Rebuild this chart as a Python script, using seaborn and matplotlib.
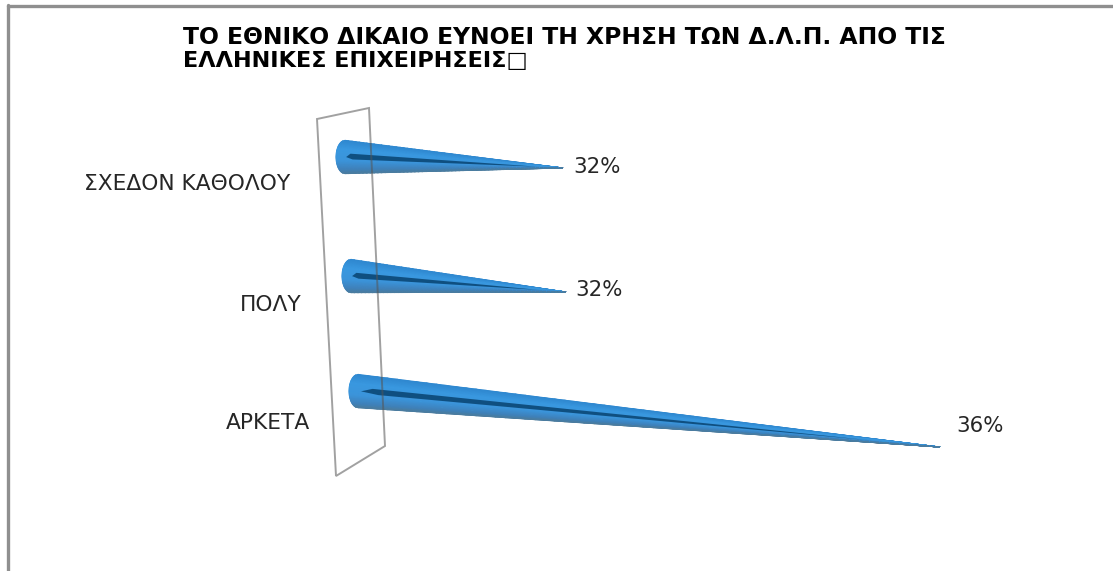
import numpy as np
import pandas as pd
import matplotlib
matplotlib.use("Agg")
import matplotlib.pyplot as plt
from matplotlib.colors import LinearSegmentedColormap
from matplotlib.lines import Line2D
from matplotlib.patches import Polygon
from matplotlib.transforms import ScaledTranslation
import seaborn as sns

# ---- data ----
title_lines = ["ΤΟ ΕΘΝΙΚΟ ΔΙΚΑΙΟ ΕΥΝΟΕΙ ΤΗ ΧΡΗΣΗ ΤΩΝ Δ.Λ.Π. ΑΠΟ ΤΙΣ", "ΕΛΛΗΝΙΚΕΣ ΕΠΙΧΕΙΡΗΣΕΙΣ\u25a1"]
categories = ["ΣΧΕΔΟΝ ΚΑΘΟΛΟΥ", "ΠΟΛΥ", "ΑΡΚΕΤΑ"]
values = [32, 32, 36]

# ---- layout (pixels) ----
W, H = 1113, 571
base_x = [345, 351, 358]
tip_drop = [11, 16, 56]
tip_dx = [0, 3, 0]
base_dy = [0, 2, 0]
label_right = [290, 302, 310]
label_dy = [25, 29, 30]
value_dx = [10, 9, 16]
value_dy = [-1, -2, -21]
cap = 9

sns.set_theme(style="white")
plt.rcParams["font.family"] = ["DejaVu Sans"]

fig = plt.figure(figsize=(W / 100, H / 100), dpi=100, facecolor="white")
ax_l, ax_r, ax_t, ax_b = 345, 945, 100, 480
ax = fig.add_axes([ax_l / W, (H - ax_b) / H, (ax_r - ax_l) / W, (ax_b - ax_t) / H])
ax.patch.set_alpha(0)

df = pd.DataFrame({"category": categories, "value": values})
sns.barplot(data=df, y="category", x="value", order=categories, orient="h",
            width=0.285, color="#3a96dc", ax=ax)
ax.set_xlim(29.687, 36.053)
ax.set_ylim(2.76, -0.487)
ax.set_xlabel("")
ax.set_ylabel("")
ax.set_xticks([])
for s in ax.spines.values():
    s.set_visible(False)
ax.tick_params(axis="y", length=0, pad=0)

# overlay in reference pixel coordinates for the cone rendering
ov = fig.add_axes([0, 0, 1, 1], zorder=5)
ov.set_xlim(0, W)
ov.set_ylim(H, 0)
ov.axis("off")
ov.patch.set_alpha(0)


def to_px(x, y):
    return ov.transData.inverted().transform(ax.transData.transform((x, y)))


cmap = LinearSegmentedColormap.from_list("cone", [
    (0.0, "#2f88d0"), (0.25, "#3998e0"), (0.62, "#3b94da"),
    (0.88, "#3f81ba"), (1.0, "#4c7c9e")])

bars = list(ax.patches)
for i, bar in enumerate(bars):
    bar.set_visible(False)
    yc = bar.get_y() + bar.get_height() / 2
    tx, cy = to_px(bar.get_x() + bar.get_width(), yc)
    _, top = to_px(0, bar.get_y())
    _, bot = to_px(0, bar.get_y() + bar.get_height())
    r = abs(bot - top) / 2
    cy += base_dy[i]
    tx += tip_dx[i]
    ty = cy + tip_drop[i]
    bx = base_x[i]

    u = np.linspace(0, 1, 60)[:, None]
    v = np.linspace(-1, 1, 41)[None, :]
    start = bx - cap * np.sqrt(1 - v ** 2)
    X = start + u * (tx - start)
    Y = (cy + v * r) + u * (ty - (cy + v * r))
    C = (v + 1) / 2 * np.ones_like(X)
    ov.pcolormesh(X, Y, C, shading="gouraud", cmap=cmap, vmin=0, vmax=1, zorder=3)

    # dark inner shadow of the hollow base, in cone-local (u, v) coordinates
    local = [(0.005, 0.0), (0.025, -0.22), (0.88, -0.02), (0.035, 0.13)]
    pts = []
    for uu, vv in local:
        xx = bx + uu * (tx - bx)
        yy = (cy + vv * r) + uu * (ty - (cy + vv * r))
        pts.append((xx, yy))
    ov.add_patch(Polygon(pts, closed=True, facecolor="#0f4f80", edgecolor="none", zorder=4))

    ov.text(tx + value_dx[i], ty + value_dy[i], f"{values[i]}%",
            ha="left", va="center", fontsize=15.4, color="#262626", zorder=6)

# tick labels moved below-left of their category, as in the reference
for i, lab in enumerate(ax.get_yticklabels()):
    dx = (label_right[i] - ax_l) / 100
    dy = -label_dy[i] / 100
    lab.set_transform(lab.get_transform() + ScaledTranslation(dx, dy, fig.dpi_scale_trans))
    lab.set_fontsize(15.7)
    lab.set_color("#262626")
    lab.set_ha("right")

# slanted back wall, drawn over the cones
wall = [(317, 119), (369, 108), (385, 446), (336, 476)]
ov.add_patch(Polygon(wall, closed=True, fill=False, edgecolor="#555555", alpha=0.55,
                     linewidth=1.4, zorder=5))

# chart frame
frame = dict(color="#8f8f8f", linewidth=2.4, clip_on=False)
ov.add_line(Line2D([7.5, W], [6, 6], **frame))
ov.add_line(Line2D([7.5, 7.5], [5, H], **frame))

for line, y, size in zip(title_lines, [37.5, 60.5], [16.9, 16.1]):
    ov.text(183, y, line, ha="left", va="center", fontsize=size, fontweight="bold",
            family=["DejaVu Sans"], color="black")
ov.set_xlim(0, W)
ov.set_ylim(H, 0)

fig.savefig("out.png", dpi=100, facecolor="white")
